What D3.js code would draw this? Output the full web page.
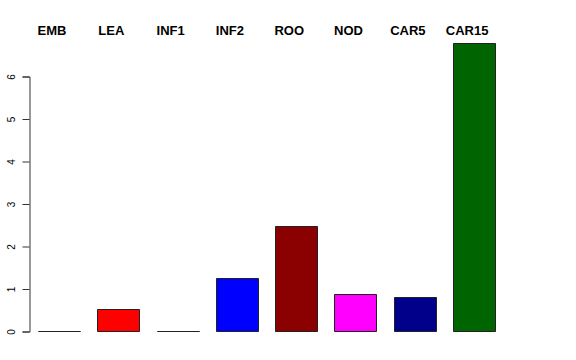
<!DOCTYPE html>
<meta charset="utf-8">
<style>
body { margin: 0; background: #fff; }
text { font-family: "Liberation Sans", Arial, sans-serif; }
</style>
<svg width="576" height="360"></svg>
<script src="https://d3js.org/d3.v7.min.js"></script>
<script>

var categories = ["EMB", "LEA", "INF1", "INF2", "ROO", "NOD", "CAR5", "CAR15"];
var values = [0, 0.52, 0, 1.25, 2.47, 0.87, 0.80, 6.78];
var colors = ["black", "red", "green", "blue", "darkred", "magenta", "darkblue", "darkgreen"];
var yTicks = [0, 1, 2, 3, 4, 5, 6];

var svg = d3.select("svg");

var x = d3.scaleBand()
    .domain(categories)
    .range([29.4, 503.8])
    .paddingInner(0.29)
    .paddingOuter(0.145);

var y = d3.scaleLinear().domain([0, 6]).range([331, 76]);

// bars as closed paths so zero-height bars still show as a line
svg.append("g").selectAll("path")
    .data(values)
    .enter().append("path")
    .attr("d", function(d, i) {
        var x0 = Math.round(x(categories[i])) + 0.5,
            x1 = x0 + Math.round(x.bandwidth()),
            y0 = Math.round(y(0)) + 0.5,
            y1 = Math.round(y(d)) + 0.5;
        return "M" + x0 + "," + y0 + "L" + x1 + "," + y0 + "L" + x1 + "," + y1 + "L" + x0 + "," + y1 + "Z";
    })
    .attr("fill", function(d, i) { return colors[i]; })
    .attr("stroke", "#222")
    .attr("stroke-width", 1);

// y axis
var yAxis = d3.axisLeft(y).tickValues(yTicks).tickFormat(d3.format("d")).tickSize(7);
var ga = svg.append("g")
    .attr("transform", "translate(29.5,0.5)")
    .call(yAxis);
ga.select(".domain").attr("stroke", "#333");
ga.selectAll(".tick line").attr("stroke", "#333");
ga.selectAll(".tick text")
    .attr("font-size", 10)
    .attr("fill", "#000")
    .attr("transform", "translate(-14.5,0) rotate(-90)")
    .attr("x", 0)
    .attr("y", 0)
    .attr("dy", "0")
    .attr("text-anchor", "middle");

// category labels on top
svg.append("g").selectAll("text")
    .data(categories)
    .enter().append("text")
    .attr("x", function(d) { return x(d) + x.bandwidth() / 2 - 7; })
    .attr("y", 35)
    .attr("text-anchor", "middle")
    .attr("font-size", 13)
    .attr("font-weight", "bold")
    .text(function(d) { return d; });

</script>
